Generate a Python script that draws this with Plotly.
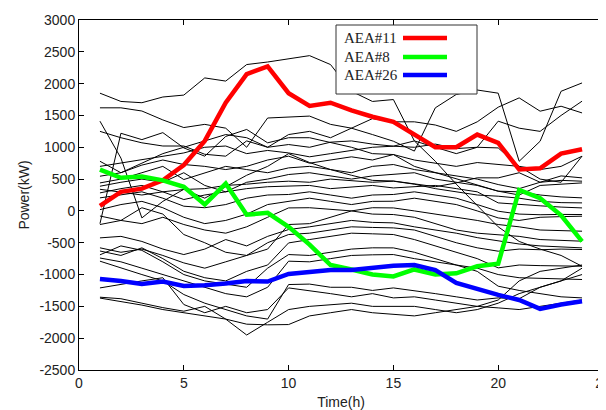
import plotly.graph_objects as go

hours = list(range(1, 25))

aea11 = [80, 300, 350, 480, 720, 1100, 1700, 2150, 2270, 1850, 1650, 1700, 1580, 1480, 1400, 1200,
         1000, 1000, 1200, 1070, 650, 670, 900, 970]
aea8 = [650, 520, 540, 480, 380, 100, 430, -60, -30, -250, -530, -850, -920, -1000, -1030, -920,
        -1000, -980, -870, -830, 330, 200, -70, -480]
aea26 = [-1070, -1100, -1150, -1110, -1180, -1170, -1140, -1100, -1110, -990, -960, -930, -930, -900,
         -860, -850, -930, -1130, -1230, -1320, -1400, -1540, -1470, -1420]

others = [
    [1850, 1720, 1700, 1790, 1820, 2090, 2040, 2300, 2340, 2390, 2440, 2300, 1880, 1720, 1750, 1100, 780, 420, 80, -250, -480, -600, -700, -870],
    [1620, 1620, 1570, 1430, 1310, 1360, 1300, 1000, 1460, 1470, 1490, 1360, 1300, 1200, 1095, 940, 1620, 1830, 1900, 1850, 780, 1095, 1880, 2011],
    [1410, 830, -110, 150, 340, 200, 380, 560, 700, 900, 760, 650, 560, 480, 470, 420, 380, 440, 520, 519, 600, 450, 480, 467],
    [1250, 1150, 1070, 1020, 1020, 890, 860, 1100, 1000, 1043, 1000, 1080, 1100, 1050, 1017, 1000, 1050, 980, 1000, 990, 700, 500, 450, 860],
    [-200, 1220, 1120, 1230, 990, 860, 1170, 1280, 1070, 1150, 1150, 1070, 1000, 900, 886, 700, 600, 500, 400, 310, 300, 250, 220, 205],
    [780, 600, 750, 900, 1000, 1100, 1200, 1150, 1000, 1200, 1250, 1150, 1300, 1450, 1400, 1400, 1350, 1250, 1400, 1630, 1776, 1567, 1645, 1540],
    [700, 750, 800, 850, 911, 1000, 1020, 900, 950, 911, 850, 900, 950, 1000, 1017, 1100, 1000, 900, 1000, 1410, 1300, 1250, 1500, 1724],
    [545, 600, 720, 800, 729, 700, 650, 700, 800, 860, 750, 800, 850, 800, 886, 800, 750, 700, 760, 729, 700, 650, 700, 860],
    [440, 500, 600, 700, 493, 600, 700, 650, 600, 676, 700, 650, 600, 700, 729, 650, 600, 550, 500, 414, 350, 450, 550, 519],
    [388, 450, 500, 450, 600, 400, 300, 450, 500, 572, 600, 550, 500, 550, 572, 600, 500, 450, 400, 310, 250, 400, 420, 440],
    [340, 300, 250, 300, 336, 350, 400, 420, 450, 467, 450, 500, 480, 450, 467, 420, 350, 300, 250, 231, 200, 150, 130, 126],
    [283, 350, 400, 300, 179, 250, 300, 350, 380, 388, 400, 350, 380, 400, 361, 380, 400, 350, 300, 126, 100, 80, 60, 47],
    [205, 250, 300, 200, 74, 50, 100, 200, 250, 258, 300, 250, 200, 250, 258, 300, 250, 200, 100, -5, -50, -60, -55, -57],
    [20, 100, 150, 50, -100, -200, -150, -50, 100, 152, 200, 150, 100, 150, 152, 200, 150, 100, 0, -110, -150, -100, -90, -83],
    [-80, -150, -200, -100, -214, -300, -350, -250, -100, 47, 50, 30, 0, 50, 47, 0, -50, -100, -150, -214, -250, -300, -310, -319],
    [-214, -150, 50, -50, -371, -500, -650, -700, -600, -214, -200, -100, 0, -50, -57, -100, -200, -300, -350, -371, -400, -450, -460, -476],
    [-424, -400, -480, -600, -686, -600, -450, -550, -400, -293, -250, -200, -150, -180, -188, -250, -300, -350, -420, -476, -520, -550, -570, -581],
    [-580, -650, -600, -700, -817, -900, -800, -700, -500, -371, -350, -300, -250, -260, -267, -300, -400, -500, -580, -633, -600, -610, -600, -607],
    [-630, -700, -580, -750, -948, -1050, -1100, -950, -850, -503, -450, -400, -350, -360, -371, -450, -550, -650, -750, -895, -850, -860, -865, -869],
    [-690, -550, -620, -800, -1000, -1100, -1150, -1200, -900, -686, -700, -650, -600, -580, -581, -650, -750, -850, -900, -1000, -1050, -1060, -1070, -1078],
    [-740, -800, -900, -1000, -1100, -1200, -1300, -1350, -1200, -790, -800, -750, -700, -690, -686, -750, -800, -850, -950, -1183, -1250, -1300, -1350, -1367],
    [-790, -900, -1000, -1100, -1314, -1450, -1550, -1650, -1700, -1157, -1150, -1200, -1200, -1250, -1210, -1250, -1300, -1350, -1400, -1367, -1380, -1200, -1100, -1000],
    [-1210, -1150, -1100, -1050, -1471, -1600, -1500, -1600, -1550, -1210, -1250, -1300, -1350, -1300, -1367, -1350, -1400, -1450, -1500, -1524, -1550, -1500, -1450, -1400],
    [-1356, -1380, -1450, -1520, -1576, -1500, -1700, -1950, -1750, -1550, -1500, -1480, -1450, -1500, -1497, -1500, -1550, -1600, -1550, -1450, -1300, -1200, -1100, -900],
    [-1370, -1420, -1480, -1550, -1600, -1650, -1700, -1780, -1790, -1786, -1650, -1600, -1550, -1600, -1628, -1650, -1600, -1550, -1500, -1400, -1100, -950, -900, -850],
]

legend_names = ["AEA#11", "AEA#8", "AEA#26"]
legend_colors = ["#ff0000", "#00ff00", "#0000ff"]
y_ticks = list(range(-2500, 3001, 500))
y_labels = [str(v) for v in y_ticks]
x_ticks = [0, 5, 10, 15, 20, 25]
x_labels = [str(v) for v in x_ticks]

fig = go.Figure()
for s in others:
    fig.add_trace(go.Scatter(x=hours, y=s, mode="lines",
                             line=dict(color="black", width=1), showlegend=False,
                             hoverinfo="skip"))
for name, s, c in zip(legend_names, [aea11, aea8, aea26], legend_colors):
    fig.add_trace(go.Scatter(x=hours, y=s, mode="lines", name=name,
                             line=dict(color=c, width=4.5), showlegend=False))

# page body has an 8px margin; figure placed at (8,8)
OFF = 8
W, H = 606 - OFF, 410 - OFF
# plot area in window px: x 79..603, y 20..370
L, R, T, B = 79, 603, 20, 370
def px(x):
    return (x - L) / (R - L)
def py(y):
    return (B - y) / (B - T)

shapes = [dict(type="rect", xref="paper", yref="paper",
               x0=px(336), x1=px(477), y0=py(94), y1=py(25),
               line=dict(color="#333", width=1), fillcolor="white", layer="above")]
annotations = []
rows = [38, 57, 75]
for name, c, ry in zip(legend_names, legend_colors, rows):
    annotations.append(dict(xref="paper", yref="paper", x=px(342), y=py(ry),
                            xanchor="left", yanchor="middle", text=name, showarrow=False,
                            font=dict(family="Liberation Serif", size=15, color="#222")))
    shapes.append(dict(type="line", xref="paper", yref="paper",
                       x0=px(403), x1=px(447), y0=py(ry), y1=py(ry),
                       line=dict(color=c, width=4.5), layer="above"))

axis_common = dict(showgrid=False, zeroline=False, showline=True, linecolor="black",
                   linewidth=1, mirror="allticks", ticks="inside", ticklen=5,
                   tickcolor="black", ticklabeloverflow="allow",
                   tickfont=dict(family="Liberation Sans", size=14, color="#222"))

fig.update_layout(
    width=W, height=H,
    margin=dict(l=L - OFF, r=W - (R - OFF), t=T - OFF, b=H - (B - OFF), autoexpand=False),
    paper_bgcolor="white", plot_bgcolor="white",
    xaxis=dict(range=[0, 25], tickvals=x_ticks, ticktext=x_labels,
               title=dict(text="Time(h)", font=dict(family="Liberation Sans", size=14, color="#222"),
                          standoff=7),
               **axis_common),
    yaxis=dict(range=[-2500, 3000], tickvals=y_ticks, ticktext=y_labels,
               title=dict(text="Power(kW)", font=dict(family="Liberation Sans", size=14, color="#222"),
                          standoff=6),
               **axis_common),
    shapes=shapes, annotations=annotations,
    showlegend=False,
)
fig.write_html("out.html")
